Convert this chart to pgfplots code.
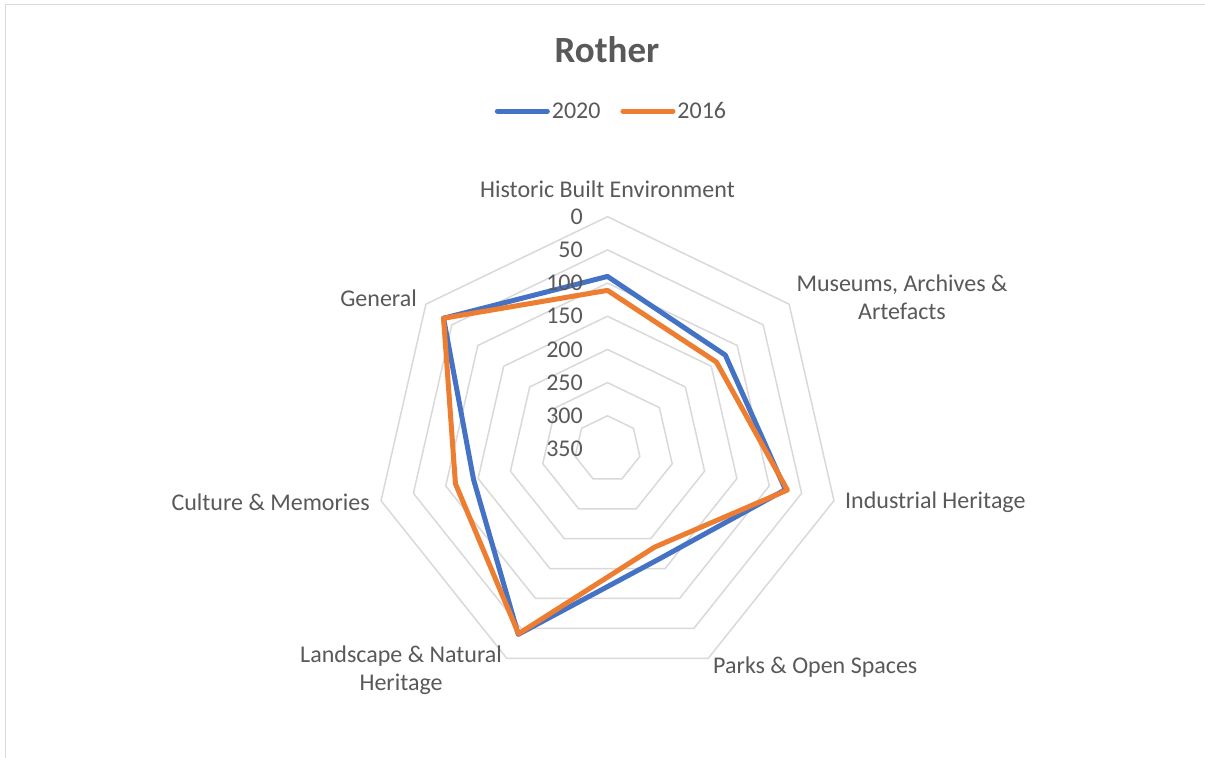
\documentclass[border=0pt]{standalone}
\usepackage{pgfplots}
\usepackage{pgfplotstable}
\pgfplotsset{compat=1.18}
\usepackage{fontspec}
\setmainfont{Carlito}
\definecolor{s2020}{HTML}{4472C4}
\definecolor{s2016}{HTML}{ED7D31}
\definecolor{gridc}{HTML}{D9D9D9}
\definecolor{txt}{HTML}{595959}
\tikzset{lbl/.style={font=\fontsize{24bp}{28bp}\selectfont, text=txt, inner sep=0pt}}

\pgfplotstableread{
a v2020 v2016
90 90 111
38.5714 123 140
-12.8571 75 72
-64.2857 167 186
-115.7143 40 41
-167.1429 143 115
-218.5714 34 34
90 90 111
}\data

\begin{document}
\begin{tikzpicture}
\fill[white] (0,0) rectangle (1205bp,758bp);
\draw[gridc, line width=1.5bp] (5.5bp,0) -- (5.5bp,753.5bp) -- (1205bp,753.5bp);
\begin{axis}[
  at={(607.5bp,309bp)}, anchor=origin,
  x=0.6637bp, y=0.6637bp,
  xmin=-350, xmax=350, ymin=-350, ymax=350,
  hide axis, clip=false,
  legend columns=2,
  legend style={at={(axis cs:6,509)}, anchor=center, draw=none, fill=none,
    font=\fontsize{24bp}{28bp}\selectfont, text=txt,
    /tikz/every even column/.append style={column sep=18bp},
    inner sep=0pt},
  legend image code/.code={\draw[#1, line cap=round] (0bp,0bp) -- (50bp,0bp);},
]
\pgfplotsinvokeforeach{0,50,100,150,200,250,300}{
  \addplot[gridc, line width=1.5bp, forget plot] table[x expr={(350-#1)*cos(\thisrow{a})}, y expr={(350-#1)*sin(\thisrow{a})}]{\data};
}
\addplot[s2020, line width=5bp, line join=round, line cap=round] table[x expr={(350-\thisrow{v2020})*cos(\thisrow{a})}, y expr={(350-\thisrow{v2020})*sin(\thisrow{a})}]{\data};
\addlegendentry{2020}
\addplot[s2016, line width=5bp, line join=round, line cap=round] table[x expr={(350-\thisrow{v2016})*cos(\thisrow{a})}, y expr={(350-\thisrow{v2016})*sin(\thisrow{a})}]{\data};
\addlegendentry{2016}

% radial tick labels
\pgfplotsinvokeforeach{0,50,100,150,200,250,300,350}{
  \node[lbl, anchor=east] at (axis cs:-36.9,{350-#1}) {#1};
}
% category labels
\node[lbl, anchor=center] at (axis cs:0,392) {Historic Built Environment};
\node[lbl, anchor=center, align=center] at (axis cs:443.7,229) {Museums, Archives \&\\Artefacts};
\node[lbl, anchor=west] at (axis cs:357.8,-79.9) {Industrial Heritage};
\node[lbl, anchor=west] at (axis cs:159,-328.5) {Parks \& Open Spaces};
\node[lbl, anchor=center, align=center] at (axis cs:-311,-333) {Landscape \& Natural\\Heritage};
\node[lbl, anchor=east] at (axis cs:-357.8,-79.9) {Culture \& Memories};
\node[lbl, anchor=east] at (axis cs:-287,227.5) {General};
% title
\node[lbl, anchor=center, font=\fontsize{37bp}{42bp}\selectfont\bfseries] at (axis cs:-0.75,601) {Rother};
\end{axis}
\pgfresetboundingbox
\useasboundingbox (0,0) rectangle (1205bp,758bp);
\end{tikzpicture}
\end{document}
